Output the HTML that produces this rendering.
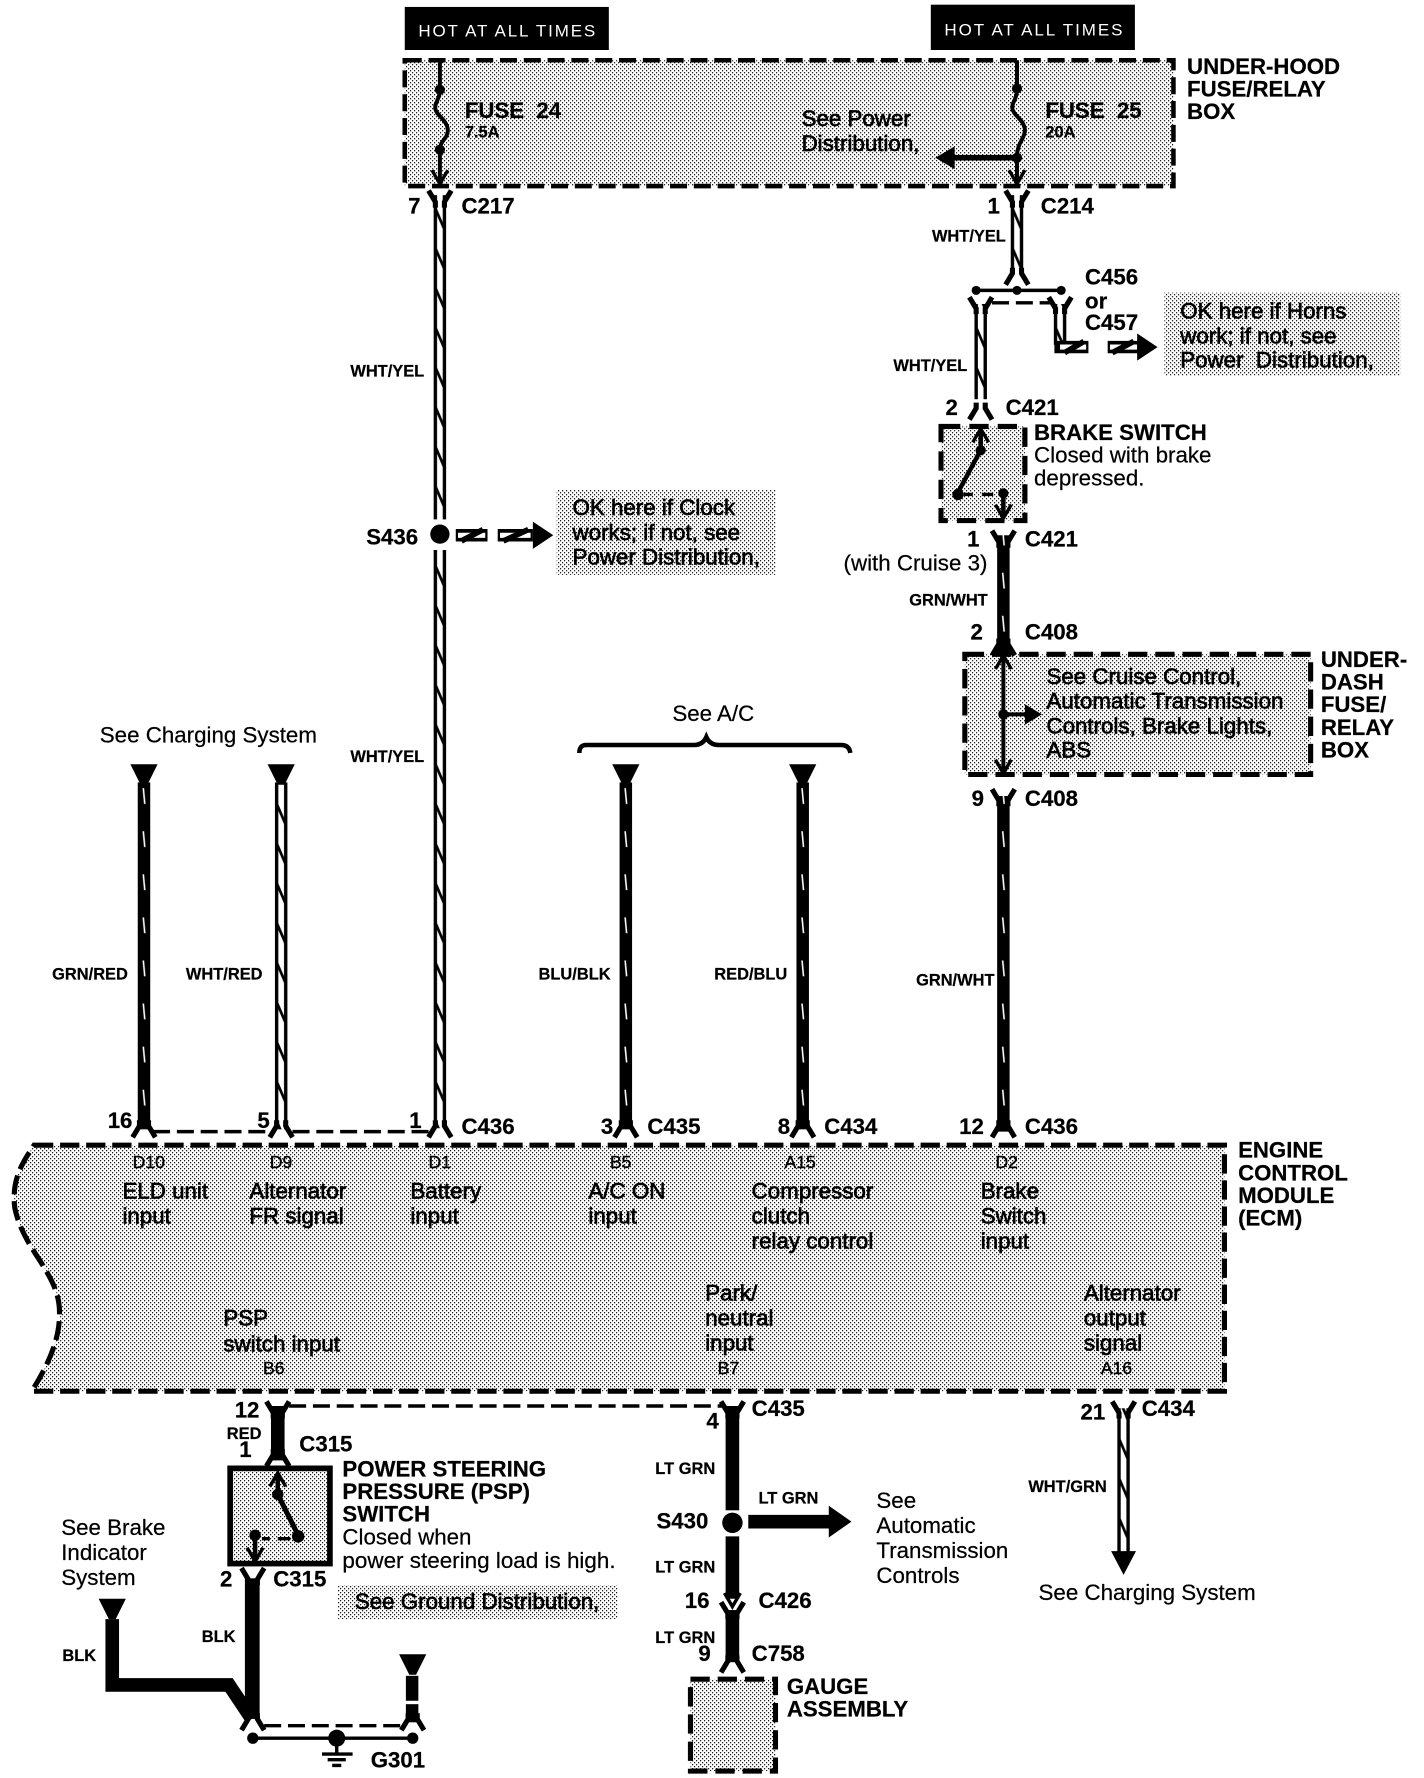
<!DOCTYPE html>
<html><head><meta charset="utf-8"><title>Wiring diagram</title>
<style>
html,body{margin:0;padding:0;background:#fff}
svg{display:block}
text{font-family:"Liberation Sans",sans-serif;fill:#000;white-space:pre}
.r{font-size:19.7px;stroke:#000;stroke-width:.2}
.s{font-size:19.7px;stroke:#000;stroke-width:.6}
.b{font-size:19.6px;font-weight:bold;stroke:#000;stroke-width:.2}
.w{font-size:14.5px;font-weight:bold;stroke:#000;stroke-width:.2}
.p{font-size:15.5px;stroke:#000;stroke-width:.35}
.h{font-size:15px;fill:#fff}
</style></head><body>
<svg xmlns="http://www.w3.org/2000/svg" width="1424" height="1778" viewBox="0 0 1256 1568">
<defs>
<pattern id="st" patternUnits="userSpaceOnUse" width="3.528" height="3.528">
<rect x="0" y="0" width="1.05" height="1.05" fill="#000"/><rect x="1.764" y="1.764" width="1.05" height="1.05" fill="#000"/>
</pattern>
<pattern id="wp" patternUnits="userSpaceOnUse" x="-5.5" y="0" width="11" height="35">
<rect x="0" y="0" width="11" height="35" fill="#000"/><rect x="3" y="0" width="5" height="35" fill="#fff"/>
<polygon points="2.5,8 2.5,14 8.5,28 8.5,22" fill="#000"/>
</pattern>
<pattern id="bp" patternUnits="userSpaceOnUse" x="-5.5" y="0" width="11" height="38">
<rect x="0" y="0" width="11" height="38" fill="#000"/>
<polygon points="4.2,11 5.6,11 6.9,25 5.5,25" fill="#fff"/>
</pattern>
<path id="fu" d="M-10-8L-4 2V7M10-8L4 2V7" fill="none" stroke="#000" stroke-width="4.5"/>
<path id="fd" d="M-10 8L-4-2V-7M10 8L4-2V-7" fill="none" stroke="#000" stroke-width="4.5"/>
<path id="vd" d="M-7-12L0 0L7-12" fill="none" stroke="#000" stroke-width="3"/>
<path id="vu" d="M-7 12L0 0L7 12" fill="none" stroke="#000" stroke-width="3"/>
<polygon id="tri" points="-12,0 12,0 3,18 -3,18" fill="#000"/>
</defs>

<!-- hot boxes -->
<rect x="357" y="6" width="180" height="38" fill="#000"/>
<rect x="821" y="4" width="180" height="40" fill="#000"/>
<text class="h" x="369" y="32" textLength="156" lengthAdjust="spacing">HOT AT ALL TIMES</text>
<text class="h" x="833" y="31" textLength="157" lengthAdjust="spacing">HOT AT ALL TIMES</text>

<!-- stipple regions -->
<rect x="357" y="53" width="678" height="111" fill="url(#st)" stroke="#000" stroke-width="4" stroke-dasharray="15 6"/>
<rect x="1027" y="258" width="208" height="73" fill="url(#st)"/>
<rect x="491" y="432" width="193" height="75" fill="url(#st)"/>
<rect x="830" y="376" width="74" height="83" fill="url(#st)" stroke="#000" stroke-width="4.5" stroke-dasharray="17 8"/>
<rect x="851" y="577" width="305" height="106" fill="url(#st)" stroke="#000" stroke-width="4.5" stroke-dasharray="17 7"/>
<path d="M30 1010L1080 1010L1080 1227L28 1227C45 1200 55 1175 52 1150C48 1120 20 1100 13 1065C10 1040 20 1025 30 1010Z" fill="url(#st)" stroke="#000" stroke-width="4.5" stroke-dasharray="17 6"/>
<rect x="298" y="1398" width="247" height="30" fill="url(#st)"/>
<rect x="203" y="1295" width="88" height="84" fill="url(#st)" stroke="#000" stroke-width="5"/>
<rect x="609" y="1481" width="75" height="81" fill="url(#st)" stroke="#000" stroke-width="4.5" stroke-dasharray="17 7"/>

<!-- fuses -->
<g fill="none" stroke="#000" stroke-width="3.5">
<path d="M388 53V79C388 88 383 90 384 96C385 102 395 106 395 115C395 122 388 124 388 132V160"/>
<path d="M897 53V79C897 88 892 90 893 96C894 102 904 106 904 115C904 122 897 126 897 138V160"/>
</g>
<g fill="#000"><circle cx="388" cy="79" r="4.5"/><circle cx="388" cy="132" r="4.5"/><circle cx="897" cy="78" r="4.5"/><circle cx="897" cy="139" r="4.5"/></g>
<use href="#vd" x="388" y="162"/><use href="#vd" x="897" y="162"/>
<path d="M897 139H840" stroke="#000" stroke-width="5"/>
<polygon points="825,139 842,129 842,149" fill="#000"/>

<!-- wires -->
<g transform="translate(388,0)"><rect x="-5.5" y="172" width="11" height="286" fill="url(#wp)"/><rect x="-5.5" y="485" width="11" height="510" fill="url(#wp)"/></g>
<g transform="translate(897,0)"><rect x="-5.5" y="172" width="11" height="68" fill="url(#wp)"/></g>
<g transform="translate(865,0)"><rect x="-5.5" y="268" width="11" height="84" fill="url(#wp)"/></g>
<g transform="translate(935,0)"><rect x="-5.5" y="268" width="11" height="36" fill="url(#wp)"/></g>
<g transform="translate(885,0)"><rect x="-5.5" y="472" width="11" height="104" fill="url(#bp)"/><rect x="-5.5" y="702" width="11" height="296" fill="url(#bp)"/></g>
<g transform="translate(127,0)"><rect x="-5.5" y="690" width="11" height="306" fill="url(#bp)"/></g>
<g transform="translate(248,0)"><rect x="-5.5" y="690" width="11" height="306" fill="url(#wp)"/></g>
<g transform="translate(552,0)"><rect x="-5.5" y="690" width="11" height="306" fill="url(#bp)"/></g>
<g transform="translate(708,0)"><rect x="-5.5" y="690" width="11" height="306" fill="url(#bp)"/></g>
<g transform="translate(991,0)"><rect x="-5.5" y="1242" width="11" height="128" fill="url(#wp)"/></g>
<rect x="239" y="1240" width="12" height="48" fill="#000"/>
<rect x="640" y="1240" width="12" height="92" fill="#000"/>
<rect x="640" y="1355" width="12" height="55" fill="#000"/>
<rect x="640" y="1420" width="12" height="46" fill="#000"/>
<rect x="216" y="1392" width="13" height="124" fill="#000"/>
<polyline points="99,1428 99,1486 202,1486 222,1516" fill="none" stroke="#000" stroke-width="12"/>
<rect x="358" y="1478" width="11" height="22" fill="#000"/><rect x="358" y="1503" width="11" height="16" fill="#000"/>

<!-- arrowheads into wires -->
<use href="#tri" x="127" y="674"/><use href="#tri" x="248" y="674"/><use href="#tri" x="552" y="674"/><use href="#tri" x="708" y="674"/>
<use href="#tri" x="99" y="1410"/><use href="#tri" x="364" y="1459"/>
<polygon points="980,1368 1002,1368 991,1389" fill="#000"/>
<use href="#vd" x="646" y="1417"/>

<!-- forks -->
<use href="#fu" x="388" y="176"/><use href="#fu" x="897" y="176"/>
<use href="#fd" x="897" y="243"/>
<use href="#fu" x="865" y="270"/><use href="#fu" x="935" y="270"/>
<use href="#fd" x="865" y="362"/>
<use href="#fu" x="885" y="476"/><use href="#fd" x="885" y="570"/>
<use href="#fu" x="885" y="704"/>
<use href="#fd" x="127" y="995"/><use href="#fd" x="248" y="995"/><use href="#fd" x="388" y="995"/><use href="#fd" x="552" y="995"/><use href="#fd" x="708" y="995"/><use href="#fd" x="885" y="995"/>
<use href="#fu" x="245" y="1244"/><use href="#fu" x="646" y="1244"/><use href="#fu" x="991" y="1244"/>
<use href="#fd" x="245" y="1285"/>
<use href="#fu" x="223" y="1391"/>
<use href="#fu" x="646" y="1421"/>
<use href="#fd" x="646" y="1467"/>
<use href="#fd" x="223" y="1518"/><use href="#fd" x="364" y="1518"/>

<!-- dashed linking lines -->
<g stroke="#000" stroke-width="3" stroke-dasharray="15 6" fill="none">
<path d="M135 998H240M258 998H380"/>
<path d="M255 1240H640"/>
<path d="M233 1522H354"/>
<path d="M875 267H926"/>
</g>

<!-- C456 bar -->
<path d="M861 256H936" stroke="#000" stroke-width="3"/>
<g fill="#000"><circle cx="861" cy="256" r="4"/><circle cx="897" cy="256" r="4"/><circle cx="936" cy="256" r="4"/></g>

<!-- horn arrow -->
<path d="M930 306H960M977 306H1004" stroke="#000" stroke-width="11"/>
<path d="M935 306H958M979 306H1003" stroke="#fff" stroke-width="4.5"/>
<path d="M939 311L956 301M981 311L1000 301" stroke="#000" stroke-width="5"/>
<polygon points="1021,306 1003,294 1003,318" fill="#000"/>

<!-- S436 -->
<circle cx="388" cy="471" r="8.5" fill="#000"/>
<path d="M402 472H430M439 472H470" stroke="#000" stroke-width="11"/>
<path d="M404 472H428M441 472H468" stroke="#fff" stroke-width="4.5"/>
<path d="M407 477L426 467M444 477L466 467" stroke="#000" stroke-width="5"/>
<polygon points="488,472 470,460 470,484" fill="#000"/>

<!-- brake switch internals -->
<path d="M865 380V397" stroke="#000" stroke-width="4"/><use href="#vu" x="865" y="378"/>
<path d="M865 397L844 436" stroke="#000" stroke-width="4"/>
<circle cx="865" cy="397" r="4.5" fill="#000"/><circle cx="845" cy="436" r="5" fill="#000"/><circle cx="885" cy="435" r="4.5" fill="#000"/>
<path d="M850 436H858M866 436H876" stroke="#000" stroke-width="3"/>
<path d="M885 435V455" stroke="#000" stroke-width="4"/><use href="#vd" x="885" y="457"/>

<!-- under-dash internals -->
<path d="M885 580V680" stroke="#000" stroke-width="3.5"/><use href="#vu" x="885" y="578"/><use href="#vd" x="885" y="682"/>
<circle cx="885" cy="630" r="4.5" fill="#000"/>
<path d="M885 630H906" stroke="#000" stroke-width="3.5"/>
<polygon points="919,630 904,621 904,639" fill="#000"/>

<!-- PSP internals -->
<path d="M245 1302V1318" stroke="#000" stroke-width="4"/><use href="#vu" x="245" y="1299"/>
<path d="M245 1318L264 1356" stroke="#000" stroke-width="4.5"/>
<circle cx="245" cy="1318" r="5" fill="#000"/><circle cx="263" cy="1355" r="5.5" fill="#000"/><circle cx="225" cy="1354" r="5" fill="#000"/>
<path d="M231 1357H238M245 1357H256" stroke="#000" stroke-width="3"/>
<path d="M225 1354V1374" stroke="#000" stroke-width="4"/><use href="#vd" x="225" y="1377"/>

<!-- ground -->
<path d="M223 1533H364" stroke="#000" stroke-width="3"/>
<circle cx="223" cy="1533" r="5" fill="#000"/><circle cx="364" cy="1533" r="5" fill="#000"/><circle cx="297" cy="1533" r="7.5" fill="#000"/>
<path d="M297 1540V1546M284 1547H311M289 1552H305M293 1557H301" stroke="#000" stroke-width="3"/>

<!-- S430 -->
<circle cx="646" cy="1343" r="9" fill="#000"/>
<path d="M660 1342H733" stroke="#000" stroke-width="12"/>
<polygon points="751,1342 731,1328 731,1356" fill="#000"/>

<!-- brace -->
<path d="M511 664Q511 657 517 657H612Q620 657 623 650Q626 657 634 657H742Q749 657 750 664" fill="none" stroke="#000" stroke-width="4"/>

<!-- text -->
<text class="b" x="1047" y="65">UNDER-HOOD</text><text class="b" x="1047" y="85">FUSE/RELAY</text><text class="b" x="1047" y="105">BOX</text>
<text class="b" x="410" y="104" stroke="#000" stroke-width=".3">FUSE  24</text><text class="w" x="410" y="121">7.5A</text>
<text class="b" x="922" y="104" stroke="#000" stroke-width=".3">FUSE  25</text><text class="w" x="922" y="121">20A</text>
<text class="s" x="707" y="111">See Power</text><text class="s" x="707" y="133">Distribution,</text>
<text class="b" x="360" y="188">7</text><text class="b" x="407" y="188">C217</text>
<text class="b" x="871" y="188">1</text><text class="b" x="918" y="188">C214</text>
<text class="w" x="822" y="213">WHT/YEL</text>
<text class="b" x="957" y="251">C456</text><text class="b" x="957" y="272">or</text><text class="b" x="957" y="291">C457</text>
<text class="s" x="1041" y="281">OK here if Horns</text><text class="s" x="1041" y="303">work; if not, see</text><text class="s" x="1041" y="324">Power  Distribution,</text>
<text class="w" x="788" y="327">WHT/YEL</text>
<text class="b" x="834" y="366">2</text><text class="b" x="887" y="366">C421</text>
<text class="b" x="912" y="388">BRAKE SWITCH</text><text class="r" x="912" y="408">Closed with brake</text><text class="r" x="912" y="428">depressed.</text>
<text class="b" x="853" y="482">1</text><text class="b" x="904" y="482">C421</text>
<text class="r" x="744" y="503">(with Cruise 3)</text>
<text class="w" x="802" y="534">GRN/WHT</text>
<text class="b" x="856" y="564">2</text><text class="b" x="904" y="564">C408</text>
<text class="b" x="1165" y="588">UNDER-</text><text class="b" x="1165" y="608">DASH</text><text class="b" x="1165" y="628">FUSE/</text><text class="b" x="1165" y="648">RELAY</text><text class="b" x="1165" y="668">BOX</text>
<text class="s" x="923" y="603">See Cruise Control,</text><text class="s" x="923" y="625">Automatic Transmission</text><text class="s" x="923" y="647">Controls, Brake Lights,</text><text class="s" x="923" y="668">ABS</text>
<text class="b" x="857" y="711">9</text><text class="b" x="904" y="711">C408</text>
<text class="w" x="808" y="869">GRN/WHT</text>
<text class="w" x="309" y="332">WHT/YEL</text><text class="w" x="309" y="672">WHT/YEL</text>
<text class="b" x="323" y="480">S436</text>
<text class="s" x="505" y="454">OK here if Clock</text><text class="s" x="505" y="476">works; if not, see</text><text class="s" x="505" y="498">Power Distribution,</text>
<text class="r" x="88" y="655">See Charging System</text>
<text class="r" x="593" y="636">See A/C</text>
<text class="w" x="46" y="864">GRN/RED</text><text class="w" x="164" y="864">WHT/RED</text><text class="w" x="475" y="864">BLU/BLK</text><text class="w" x="630" y="864">RED/BLU</text>
<text class="b" x="95" y="995">16</text><text class="b" x="227" y="995">5</text><text class="b" x="361" y="995">1</text><text class="b" x="407" y="1000">C436</text>
<text class="b" x="530" y="1000">3</text><text class="b" x="571" y="1000">C435</text><text class="b" x="686" y="1000">8</text><text class="b" x="727" y="1000">C434</text>
<text class="b" x="846" y="1000">12</text><text class="b" x="904" y="1000">C436</text>
<text class="b" x="1092" y="1021">ENGINE</text><text class="b" x="1092" y="1041">CONTROL</text><text class="b" x="1092" y="1061">MODULE</text><text class="b" x="1092" y="1081">(ECM)</text>
<text class="p" x="117" y="1030">D10</text><text class="p" x="238" y="1030">D9</text><text class="p" x="378" y="1030">D1</text><text class="p" x="538" y="1030">B5</text><text class="p" x="692" y="1030">A15</text><text class="p" x="878" y="1030">D2</text>
<text class="s" x="108" y="1057">ELD unit</text><text class="s" x="108" y="1079">input</text>
<text class="s" x="220" y="1057">Alternator</text><text class="s" x="220" y="1079">FR signal</text>
<text class="s" x="362" y="1057">Battery</text><text class="s" x="362" y="1079">input</text>
<text class="s" x="519" y="1057">A/C ON</text><text class="s" x="519" y="1079">input</text>
<text class="s" x="663" y="1057">Compressor</text><text class="s" x="663" y="1079">clutch</text><text class="s" x="663" y="1101">relay control</text>
<text class="s" x="865" y="1057">Brake</text><text class="s" x="865" y="1079">Switch</text><text class="s" x="865" y="1101">input</text>
<text class="s" x="197" y="1169">PSP</text><text class="s" x="197" y="1192">switch input</text><text class="p" x="232" y="1212">B6</text>
<text class="s" x="622" y="1147">Park/</text><text class="s" x="622" y="1169">neutral</text><text class="s" x="622" y="1191">input</text><text class="p" x="633" y="1212">B7</text>
<text class="s" x="956" y="1147">Alternator</text><text class="s" x="956" y="1169">output</text><text class="s" x="956" y="1191">signal</text><text class="p" x="971" y="1212">A16</text>
<text class="b" x="207" y="1250">12</text><text class="w" x="200" y="1269">RED</text><text class="b" x="211" y="1285">1</text><text class="b" x="264" y="1280">C315</text>
<text class="b" x="302" y="1302">POWER STEERING</text><text class="b" x="302" y="1322">PRESSURE (PSP)</text><text class="b" x="302" y="1342">SWITCH</text>
<text class="r" x="302" y="1362">Closed when</text><text class="r" x="302" y="1383" textLength="241" lengthAdjust="spacingAndGlyphs">power steering load is high.</text>
<text class="b" x="194" y="1399">2</text><text class="b" x="241" y="1399">C315</text>
<text class="s" x="313" y="1419">See Ground Distribution,</text>
<text class="r" x="54" y="1354">See Brake</text><text class="r" x="54" y="1376">Indicator</text><text class="r" x="54" y="1398">System</text>
<text class="w" x="55" y="1465">BLK</text><text class="w" x="178" y="1448">BLK</text>
<text class="b" x="327" y="1559">G301</text>
<text class="b" x="623" y="1260">4</text><text class="b" x="663" y="1249">C435</text>
<text class="w" x="578" y="1300">LT GRN</text><text class="b" x="579" y="1348">S430</text><text class="w" x="669" y="1326">LT GRN</text>
<text class="w" x="578" y="1387">LT GRN</text><text class="b" x="604" y="1418">16</text><text class="b" x="669" y="1418">C426</text>
<text class="w" x="578" y="1449">LT GRN</text><text class="b" x="616" y="1465">9</text><text class="b" x="663" y="1465">C758</text>
<text class="b" x="694" y="1494">GAUGE</text><text class="b" x="694" y="1514">ASSEMBLY</text>
<text class="r" x="773" y="1330">See</text><text class="r" x="773" y="1352">Automatic</text><text class="r" x="773" y="1374">Transmission</text><text class="r" x="773" y="1396">Controls</text>
<text class="b" x="953" y="1252">21</text><text class="b" x="1007" y="1249">C434</text>
<text class="w" x="907" y="1316">WHT/GRN</text>
<text class="r" x="916" y="1411">See Charging System</text>
</svg>
</body></html>
